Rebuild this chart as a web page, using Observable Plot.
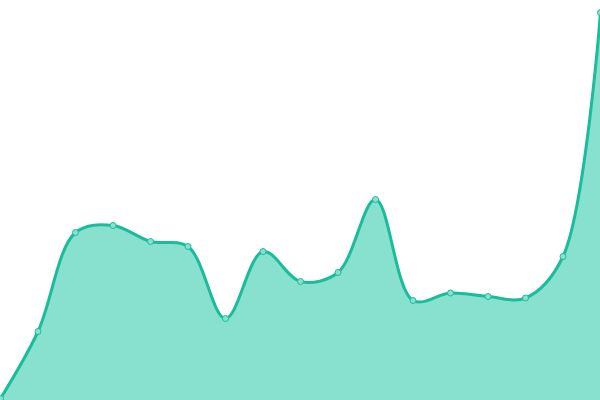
<!DOCTYPE html>
<html>
<head>
<meta charset="utf-8">
<script src="https://cdn.jsdelivr.net/npm/d3@7"></script>
<script src="https://cdn.jsdelivr.net/npm/@observablehq/plot@0.6"></script>
<style>
  html, body { margin: 0; padding: 0; background: #fff; }
  #chart svg { display: block; }
</style>
</head>
<body>
<div id="chart"></div>
<script>
const xs = [0, 1, 2, 3, 4, 5, 6, 7, 8, 9, 10, 11, 12, 13, 14, 15, 16];
const values = [2, 69, 168, 175, 159, 154, 82, 149, 119, 128, 201, 100, 107.5, 104, 102.5, 144, 388];

const data = xs.map((x, i) => ({x, y: values[i]}));

const chart = Plot.plot({
  width: 600,
  height: 400,
  margin: 0,
  x: {domain: [0, 16], axis: null},
  y: {domain: [0, 400], axis: null},
  marks: [
    Plot.areaY(data, {x: "x", y: "y", fill: "#88e0cf", curve: "catmull-rom"}),
    Plot.lineY(data, {x: "x", y: "y", stroke: "#1abc9c", strokeWidth: 3, curve: "catmull-rom"}),
    Plot.dot(data, {x: "x", y: "y", r: 3, fill: "#88e0cf", stroke: "#1abc9c", strokeWidth: 1})
  ]
});
document.getElementById("chart").appendChild(chart);
</script>
</body>
</html>
